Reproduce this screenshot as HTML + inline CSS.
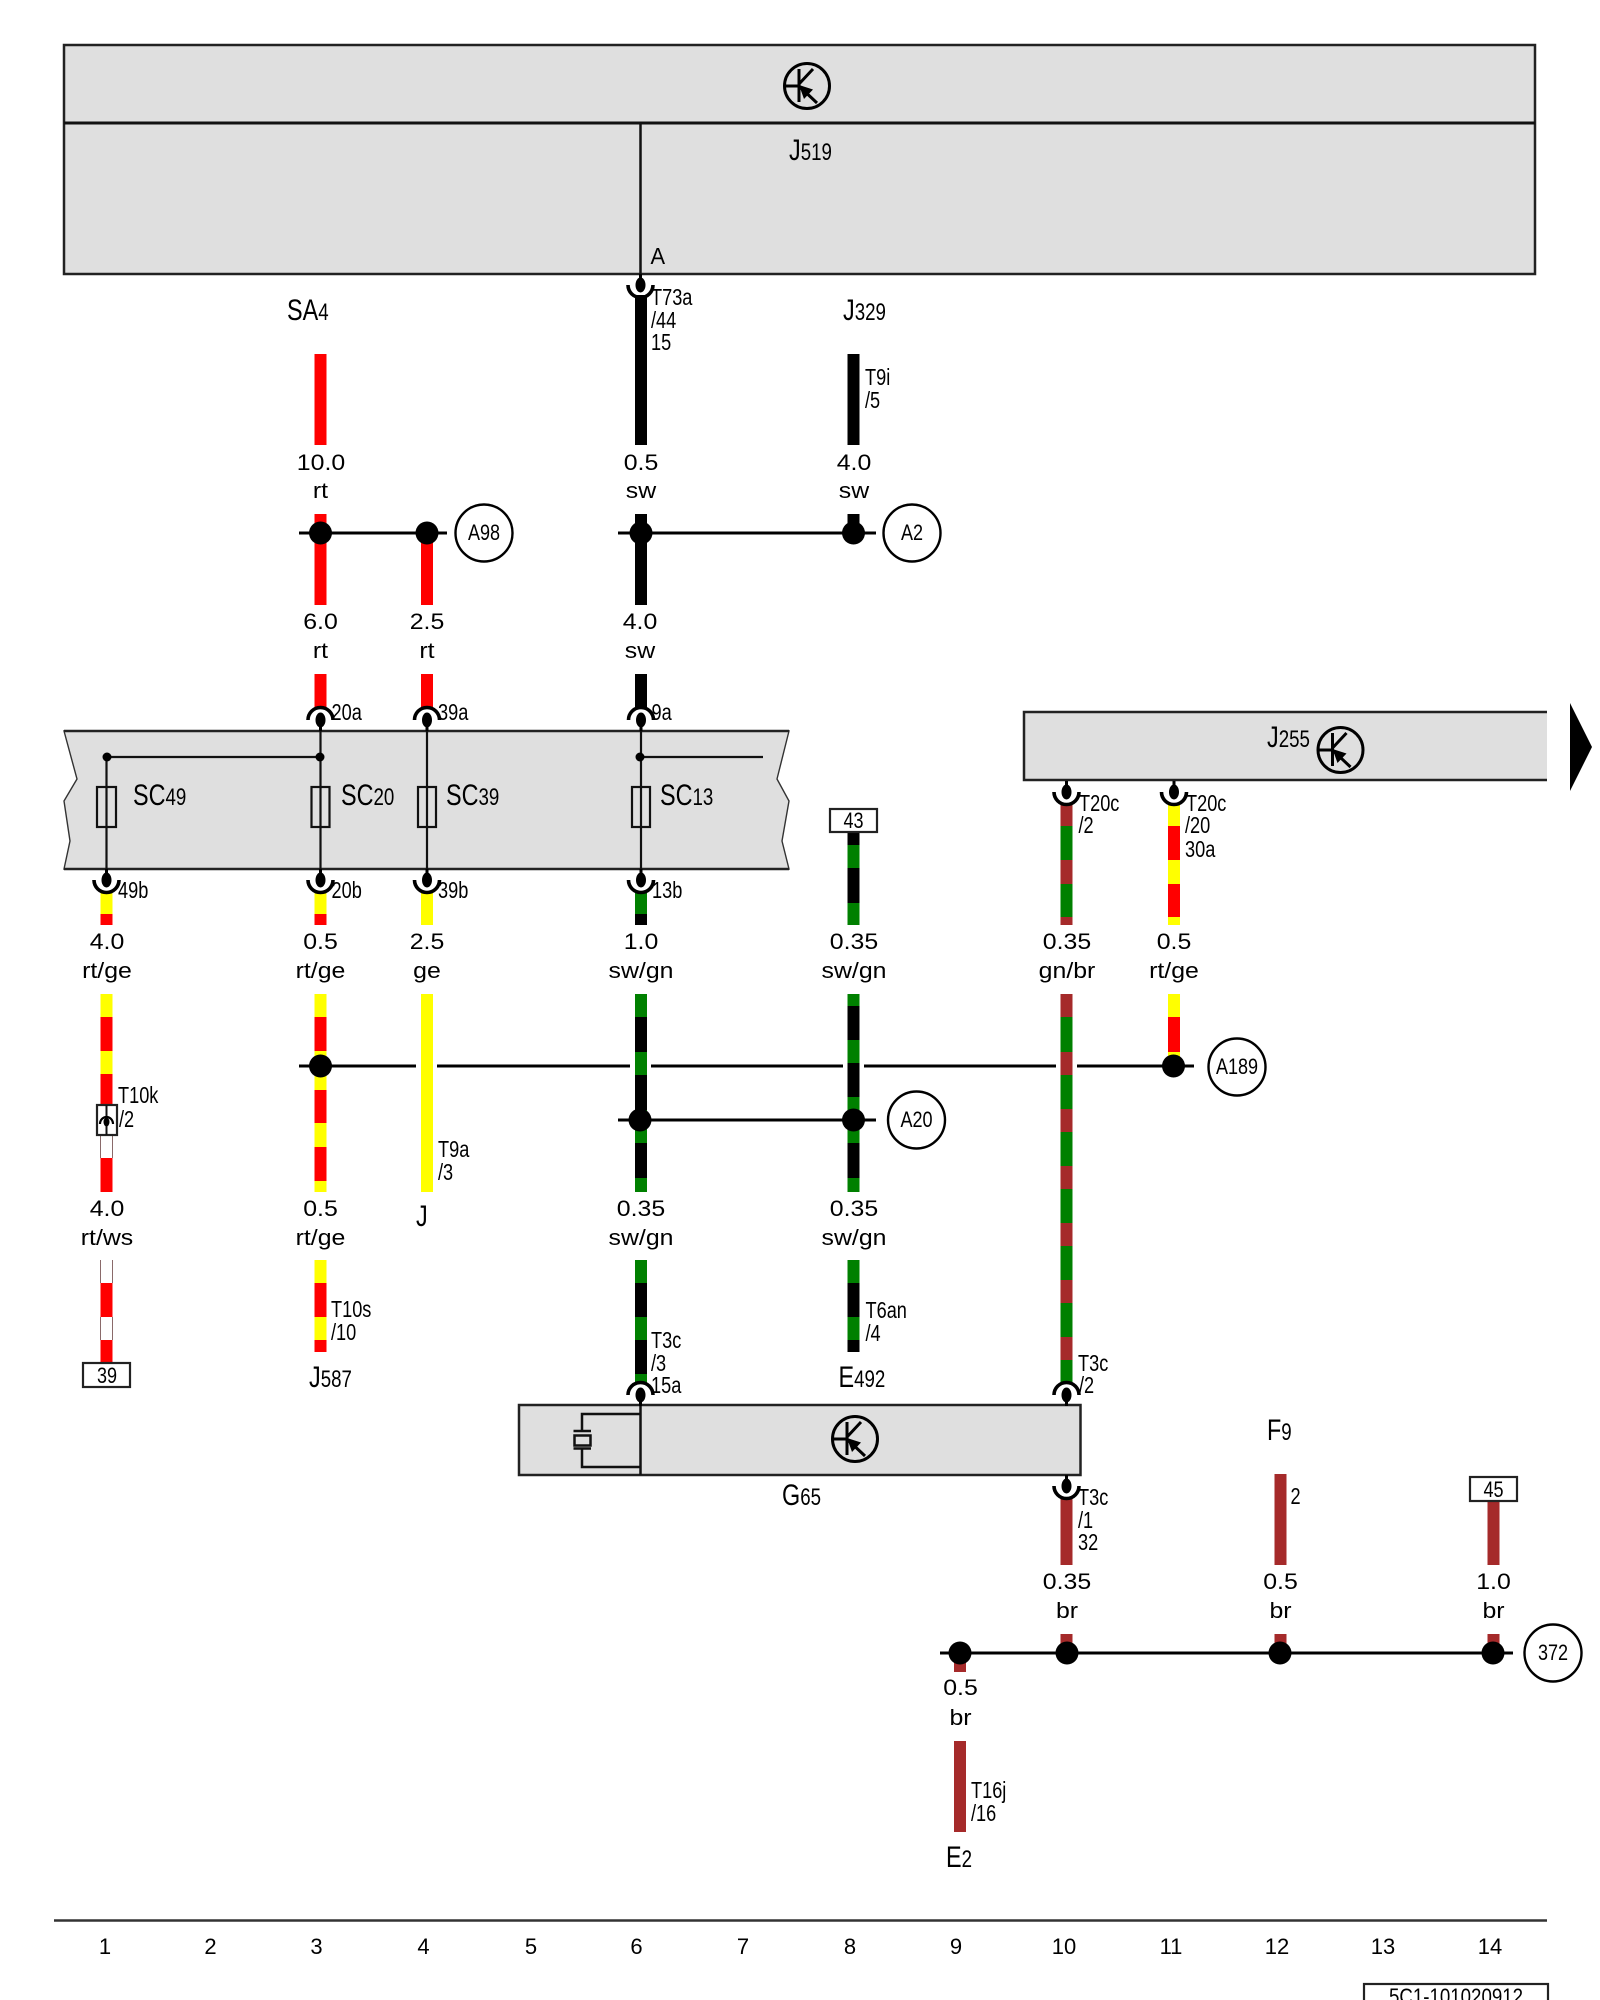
<!DOCTYPE html>
<html><head><meta charset="utf-8"><style>
html,body{margin:0;padding:0;background:#fff}
svg{display:block}
text{font-family:"Liberation Sans",Arial,sans-serif;fill:#000}
.c{font-size:23px}
.m{font-size:30px}
.l{font-size:22px;text-anchor:middle}
.s{font-size:22px;text-anchor:middle}
.n{font-size:22px;text-anchor:middle}
</style></head><body>
<svg xmlns="http://www.w3.org/2000/svg" width="1600" height="2000" viewBox="0 0 1600 2000">
<defs>
<g id="tr" fill="none" stroke="#000" stroke-width="3">
<circle r="22.5"/>
<path d="M-23 0H-8M-8 -17V16M-8 -2L6 -17M-8 0L10 17"/>
<polygon points="-8,-1 6,3.5 -3,13" fill="#000" stroke="none"/>
</g>
<g id="cu">
<path d="M-12.5 0A12.5 12.5 0 0 1 12.5 0" fill="none" stroke="#000" stroke-width="3.6"/>
<path d="M0 0V11" stroke="#000" stroke-width="3"/>
<ellipse cx="0" cy="0" rx="5" ry="7.5" fill="#000"/>
</g>
<g id="cd">
<path d="M-12.5 0A12.5 12.5 0 0 0 12.5 0" fill="none" stroke="#000" stroke-width="3.6"/>
<path d="M0 0V-11" stroke="#000" stroke-width="3"/>
<ellipse cx="0" cy="0" rx="5" ry="7.5" fill="#000"/>
</g>
</defs>

<!-- J519 -->
<rect x="64" y="45" width="1471" height="229" fill="#dfdfdf" stroke="#222" stroke-width="2.5"/>
<path d="M64 123H1535" stroke="#111" stroke-width="3"/>
<path d="M640.5 123V274" stroke="#111" stroke-width="2.5"/>
<use href="#tr" x="807" y="86"/>

<!-- J255 -->
<rect x="1024" y="712" width="523" height="68" fill="#dfdfdf"/>
<path d="M1547 712H1024V780H1547" fill="none" stroke="#222" stroke-width="2.5"/>
<use href="#tr" x="1340.5" y="750"/>
<polygon points="1570,703 1592,747 1570,791" fill="#000"/>

<!-- Fuse box -->
<polygon points="64,731 789,731 777,779 789,801 782,841 789,869 64,869 70,841 64,801 77,779" fill="#dfdfdf" stroke="#333" stroke-width="1.4"/>
<path d="M64 731H789M64 869H789" stroke="#222" stroke-width="2.5"/>
<g fill="none" stroke="#111" stroke-width="2.2">
<path d="M106.5 757V869M320.5 731V869M427 731V869M641 731V869M106.5 757H320.5M641 757H763"/>
<rect x="97" y="787" width="19" height="40" fill="#dfdfdf"/>
<rect x="311.5" y="787" width="18" height="40" fill="#dfdfdf"/>
<rect x="418" y="787" width="18" height="40" fill="#dfdfdf"/>
<rect x="632" y="787" width="18" height="40" fill="#dfdfdf"/>
</g>
<path d="M106.5 787V827M320.5 787V827M427 787V827M641 787V827" stroke="#111" stroke-width="2.2"/>
<g fill="#000"><ellipse cx="107" cy="757" rx="4.5" ry="4.5"/><ellipse cx="320" cy="757" rx="4.5" ry="4.5"/><ellipse cx="640" cy="757" rx="4.5" ry="4.5"/></g>

<!-- G65 -->
<rect x="519" y="1405" width="561.5" height="70" fill="#dfdfdf" stroke="#222" stroke-width="2.5"/>
<path d="M640.5 1405V1475" stroke="#111" stroke-width="2.5"/>
<g fill="none" stroke="#111" stroke-width="2.5">
<path d="M640 1414H582V1431M582 1448V1467H640"/>
<path d="M573.5 1431H591M573.5 1448.5H591" stroke-width="2.5"/>
<rect x="574.5" y="1435.5" width="16" height="10" fill="#dfdfdf"/>
</g>
<use href="#tr" x="855" y="1439"/>

<!-- coloured wires -->
<g fill="none" stroke-width="12">
<path stroke="#ff0000" d="M320.5 354V445M320.5 514V605M427 533V605M320.5 674V708M427 674V708
M106.5 914V925M106.5 1017V1051M106.5 1074V1105M106.5 1158V1192M106.5 1283V1317M106.5 1340V1363
M320.5 914V925M320.5 1017V1051M320.5 1090V1123M320.5 1147V1181M320.5 1283V1317M320.5 1340V1352
M1174 826V860M1174 884V917M1174 1017V1052"/>
<path stroke="#ffff00" d="M106.5 892V914M106.5 994V1017M106.5 1051V1074
M320.5 892V914M320.5 994V1017M320.5 1051V1090M320.5 1123V1147M320.5 1181V1192M320.5 1260V1283M320.5 1317V1340
M427 892V925M427 994V1192
M1174 804V826M1174 860V884M1174 917V925M1174 994V1017M1174 1052V1066"/>
<path stroke="#000" d="M641 295V445M641 514V605M641 674V708M641 914V925M641 1017V1052M641 1075V1110M641 1143V1178M641 1283V1317M641 1340V1374
M853.5 354V445M853.5 514V533M853.5 832V845M853.5 868V903M853.5 1006V1040M853.5 1063V1097M853.5 1143V1178M853.5 1283V1317M853.5 1340V1352"/>
<path stroke="#008000" d="M641 892V914M641 994V1017M641 1052V1075M641 1110V1143M641 1178V1192M641 1260V1283M641 1317V1340M641 1374V1383
M853.5 845V868M853.5 903V925M853.5 994V1006M853.5 1040V1063M853.5 1097V1143M853.5 1178V1192M853.5 1260V1283M853.5 1317V1340
M1066.5 826V860M1066.5 884V917M1066.5 1017V1052M1066.5 1075V1109M1066.5 1132V1166M1066.5 1189V1223M1066.5 1246V1280M1066.5 1303V1337M1066.5 1360V1383"/>
<path stroke="#a52a2a" d="M1066.5 804V826M1066.5 860V884M1066.5 917V925M1066.5 994V1017M1066.5 1052V1075M1066.5 1109V1132M1066.5 1166V1189M1066.5 1223V1246M1066.5 1280V1303M1066.5 1337V1360
M1066.5 1498V1565M1066.5 1634V1653M1280.5 1474V1565M1280.5 1634V1653M1493.5 1501V1565M1493.5 1634V1653M960 1653V1672M960 1741V1832"/>
</g>
<path d="M100.5 1135V1158M112.5 1135V1158M100.5 1260V1283M112.5 1260V1283M100.5 1317V1340M112.5 1317V1340" stroke="#8a6a6a" stroke-width="1" fill="none"/>

<!-- connectors -->
<use href="#cd" x="640.5" y="285"/>
<use href="#cu" x="320.5" y="720"/>
<use href="#cu" x="427" y="720"/>
<use href="#cu" x="641" y="720"/>
<use href="#cd" x="106.5" y="880"/>
<use href="#cd" x="320.5" y="880"/>
<use href="#cd" x="427" y="880"/>
<use href="#cd" x="641" y="880"/>
<use href="#cd" x="1066.5" y="792"/>
<use href="#cd" x="1174" y="792"/>
<use href="#cu" x="640.5" y="1395"/>
<use href="#cu" x="1066.5" y="1395"/>
<use href="#cd" x="1066.5" y="1486"/>

<!-- T10k inline connector -->
<rect x="97" y="1105" width="20" height="30" fill="#fff" stroke="#222" stroke-width="2.2"/>
<path d="M106.5 1105V1135" stroke="#111" stroke-width="2"/>
<path d="M100 1124A6.5 7 0 0 1 113 1124" fill="none" stroke="#000" stroke-width="2.2"/>
<ellipse cx="106.5" cy="1122" rx="3" ry="4.5" fill="#000"/>

<!-- horizontal busses -->
<g stroke="#000" stroke-width="3" fill="none">
<path d="M299 533H447M618 533H876"/>
<path d="M299 1066H416M437 1066H630M651 1066H843M864 1066H1056M1077 1066H1194"/>
<path d="M618 1120H876"/>
<path d="M940 1653H1513"/>
</g>
<g fill="#000">
<circle cx="320.5" cy="533" r="11.5"/><circle cx="427" cy="533" r="11.5"/>
<circle cx="641" cy="533" r="11.5"/><circle cx="853.5" cy="533" r="11.5"/>
<circle cx="320.5" cy="1066" r="11.5"/><circle cx="1173.5" cy="1066" r="11.5"/>
<circle cx="640" cy="1120" r="11.5"/><circle cx="853.5" cy="1120" r="11.5"/>
<circle cx="960" cy="1653" r="11.5"/><circle cx="1067" cy="1653" r="11.5"/><circle cx="1280" cy="1653" r="11.5"/><circle cx="1493" cy="1653" r="11.5"/>
</g>

<!-- circles -->
<g fill="#fff" stroke="#000" stroke-width="2.4">
<circle cx="484" cy="533" r="28.5"/>
<circle cx="912" cy="533" r="28.5"/>
<circle cx="1237" cy="1067" r="28.5"/>
<circle cx="916.5" cy="1120" r="28.5"/>
<circle cx="1553" cy="1653" r="28.5"/>
</g>
<text class="s" transform="matrix(.82 0 0 1 484 540)">A98</text>
<text class="s" transform="matrix(.82 0 0 1 912 540)">A2</text>
<text class="s" transform="matrix(.82 0 0 1 1237 1074)">A189</text>
<text class="s" transform="matrix(.82 0 0 1 916.5 1127)">A20</text>
<text class="s" transform="matrix(.82 0 0 1 1553 1660)">372</text>

<!-- small boxes -->
<g fill="#fff" stroke="#222" stroke-width="2.2">
<rect x="83" y="1363" width="47" height="24"/>
<rect x="830" y="809" width="47" height="23"/>
<rect x="1470" y="1477" width="47" height="24"/>
<rect x="1364" y="1984" width="184" height="30"/>
</g>
<text class="s" transform="matrix(.82 0 0 1 107 1383)">39</text>
<text class="s" transform="matrix(.82 0 0 1 853.5 828)">43</text>
<text class="s" transform="matrix(.82 0 0 1 1493.5 1497)">45</text>
<text class="s" transform="matrix(.85 0 0 1 1456 2004)">5C1-101020912</text>

<!-- component labels -->
<text class="m" transform="matrix(.78 0 0 1 789 160)">J<tspan font-size="24">519</tspan></text>
<text class="m" transform="matrix(.78 0 0 1 287 320)">SA<tspan font-size="24">4</tspan></text>
<text class="m" transform="matrix(.78 0 0 1 843 320)">J<tspan font-size="24">329</tspan></text>
<text class="m" transform="matrix(.78 0 0 1 133 805)">SC<tspan font-size="24">49</tspan></text>
<text class="m" transform="matrix(.78 0 0 1 341 805)">SC<tspan font-size="24">20</tspan></text>
<text class="m" transform="matrix(.78 0 0 1 446 805)">SC<tspan font-size="24">39</tspan></text>
<text class="m" transform="matrix(.78 0 0 1 660 805)">SC<tspan font-size="24">13</tspan></text>
<text class="m" transform="matrix(.78 0 0 1 1267 747)">J<tspan font-size="24">255</tspan></text>
<text class="m" transform="matrix(.78 0 0 1 416 1226)">J</text>
<text class="m" transform="matrix(.78 0 0 1 309 1387)">J<tspan font-size="24">587</tspan></text>
<text class="m" transform="matrix(.78 0 0 1 838.5 1387)">E<tspan font-size="24">492</tspan></text>
<text class="m" transform="matrix(.78 0 0 1 782 1505)">G<tspan font-size="24">65</tspan></text>
<text class="m" transform="matrix(.78 0 0 1 1267 1440)">F<tspan font-size="24">9</tspan></text>
<text class="m" transform="matrix(.78 0 0 1 946 1867)">E<tspan font-size="24">2</tspan></text>

<!-- connector labels -->
<text class="c" transform="matrix(.95 0 0 1 650.5 264)">A</text>
<text class="c" transform="matrix(.79 0 0 1 651 305)">T73a</text>
<text class="c" transform="matrix(.79 0 0 1 651 328)">/44</text>
<text class="c" transform="matrix(.79 0 0 1 651 350)">15</text>
<text class="c" transform="matrix(.79 0 0 1 865 385)">T9i</text>
<text class="c" transform="matrix(.79 0 0 1 865 408)">/5</text>
<text class="c" transform="matrix(.79 0 0 1 331.5 720)">20a</text>
<text class="c" transform="matrix(.79 0 0 1 438 720)">39a</text>
<text class="c" transform="matrix(.79 0 0 1 651.5 720)">9a</text>
<text class="c" transform="matrix(.79 0 0 1 118 898)">49b</text>
<text class="c" transform="matrix(.79 0 0 1 331.5 898)">20b</text>
<text class="c" transform="matrix(.79 0 0 1 438 898)">39b</text>
<text class="c" transform="matrix(.79 0 0 1 652 898)">13b</text>
<text class="c" transform="matrix(.79 0 0 1 1079 811)">T20c</text>
<text class="c" transform="matrix(.79 0 0 1 1078.5 833)">/2</text>
<text class="c" transform="matrix(.79 0 0 1 1186 811)">T20c</text>
<text class="c" transform="matrix(.79 0 0 1 1185 833)">/20</text>
<text class="c" transform="matrix(.79 0 0 1 1185 857)">30a</text>
<text class="c" transform="matrix(.79 0 0 1 118 1103)">T10k</text>
<text class="c" transform="matrix(.79 0 0 1 119 1127)">/2</text>
<text class="c" transform="matrix(.79 0 0 1 438 1157)">T9a</text>
<text class="c" transform="matrix(.79 0 0 1 438 1180)">/3</text>
<text class="c" transform="matrix(.79 0 0 1 331 1317)">T10s</text>
<text class="c" transform="matrix(.79 0 0 1 331 1340)">/10</text>
<text class="c" transform="matrix(.79 0 0 1 651 1348)">T3c</text>
<text class="c" transform="matrix(.79 0 0 1 651 1371)">/3</text>
<text class="c" transform="matrix(.79 0 0 1 651 1393)">15a</text>
<text class="c" transform="matrix(.79 0 0 1 865.5 1318)">T6an</text>
<text class="c" transform="matrix(.79 0 0 1 865.5 1341)">/4</text>
<text class="c" transform="matrix(.79 0 0 1 1078 1371)">T3c</text>
<text class="c" transform="matrix(.79 0 0 1 1079 1393)">/2</text>
<text class="c" transform="matrix(.79 0 0 1 1078 1505)">T3c</text>
<text class="c" transform="matrix(.79 0 0 1 1078 1528)">/1</text>
<text class="c" transform="matrix(.79 0 0 1 1078 1550)">32</text>
<text class="c" transform="matrix(.79 0 0 1 1290.5 1504)">2</text>
<text class="c" transform="matrix(.79 0 0 1 971 1798)">T16j</text>
<text class="c" transform="matrix(.79 0 0 1 971 1821)">/16</text>

<!-- wire gauge/colour labels -->
<text class="l" transform="matrix(1.13 0 0 1 321 470)">10.0</text><text class="l" transform="matrix(1.13 0 0 1 320.5 498)">rt</text>
<text class="l" transform="matrix(1.13 0 0 1 641 470)">0.5</text><text class="l" transform="matrix(1.13 0 0 1 641 498)">sw</text>
<text class="l" transform="matrix(1.13 0 0 1 854 470)">4.0</text><text class="l" transform="matrix(1.13 0 0 1 854 498)">sw</text>
<text class="l" transform="matrix(1.13 0 0 1 320.5 629)">6.0</text><text class="l" transform="matrix(1.13 0 0 1 320.5 658)">rt</text>
<text class="l" transform="matrix(1.13 0 0 1 427 629)">2.5</text><text class="l" transform="matrix(1.13 0 0 1 427 658)">rt</text>
<text class="l" transform="matrix(1.13 0 0 1 640 629)">4.0</text><text class="l" transform="matrix(1.13 0 0 1 640 658)">sw</text>
<text class="l" transform="matrix(1.13 0 0 1 107 949)">4.0</text><text class="l" transform="matrix(1.13 0 0 1 107 978)">rt/ge</text>
<text class="l" transform="matrix(1.13 0 0 1 320.5 949)">0.5</text><text class="l" transform="matrix(1.13 0 0 1 320.5 978)">rt/ge</text>
<text class="l" transform="matrix(1.13 0 0 1 427 949)">2.5</text><text class="l" transform="matrix(1.13 0 0 1 427 978)">ge</text>
<text class="l" transform="matrix(1.13 0 0 1 641 949)">1.0</text><text class="l" transform="matrix(1.13 0 0 1 641 978)">sw/gn</text>
<text class="l" transform="matrix(1.13 0 0 1 854 949)">0.35</text><text class="l" transform="matrix(1.13 0 0 1 854 978)">sw/gn</text>
<text class="l" transform="matrix(1.13 0 0 1 1067 949)">0.35</text><text class="l" transform="matrix(1.13 0 0 1 1067 978)">gn/br</text>
<text class="l" transform="matrix(1.13 0 0 1 1174 949)">0.5</text><text class="l" transform="matrix(1.13 0 0 1 1174 978)">rt/ge</text>
<text class="l" transform="matrix(1.13 0 0 1 107 1216)">4.0</text><text class="l" transform="matrix(1.13 0 0 1 107 1245)">rt/ws</text>
<text class="l" transform="matrix(1.13 0 0 1 320.5 1216)">0.5</text><text class="l" transform="matrix(1.13 0 0 1 320.5 1245)">rt/ge</text>
<text class="l" transform="matrix(1.13 0 0 1 641 1216)">0.35</text><text class="l" transform="matrix(1.13 0 0 1 641 1245)">sw/gn</text>
<text class="l" transform="matrix(1.13 0 0 1 854 1216)">0.35</text><text class="l" transform="matrix(1.13 0 0 1 854 1245)">sw/gn</text>
<text class="l" transform="matrix(1.13 0 0 1 1067 1589)">0.35</text><text class="l" transform="matrix(1.13 0 0 1 1067 1618)">br</text>
<text class="l" transform="matrix(1.13 0 0 1 1280.5 1589)">0.5</text><text class="l" transform="matrix(1.13 0 0 1 1280.5 1618)">br</text>
<text class="l" transform="matrix(1.13 0 0 1 1493.5 1589)">1.0</text><text class="l" transform="matrix(1.13 0 0 1 1493.5 1618)">br</text>
<text class="l" transform="matrix(1.13 0 0 1 960.5 1695)">0.5</text><text class="l" transform="matrix(1.13 0 0 1 960.5 1725)">br</text>

<!-- axis -->
<path d="M54 1920.5H1547" stroke="#333" stroke-width="2.5"/>
<text class="n" x="105" y="1954">1</text>
<text class="n" x="210.5" y="1954">2</text>
<text class="n" x="316.5" y="1954">3</text>
<text class="n" x="423.5" y="1954">4</text>
<text class="n" x="531" y="1954">5</text>
<text class="n" x="636.5" y="1954">6</text>
<text class="n" x="743" y="1954">7</text>
<text class="n" x="850" y="1954">8</text>
<text class="n" x="956" y="1954">9</text>
<text class="n" x="1064" y="1954">10</text>
<text class="n" x="1171" y="1954">11</text>
<text class="n" x="1277" y="1954">12</text>
<text class="n" x="1383" y="1954">13</text>
<text class="n" x="1490" y="1954">14</text>
</svg>
</body></html>
